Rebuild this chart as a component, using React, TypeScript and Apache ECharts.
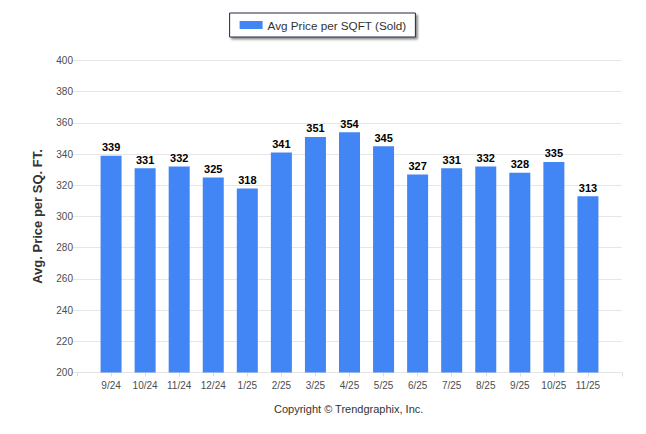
import React, { useEffect, useRef } from "react";
import * as echarts from "echarts";

const categories = ["9/24", "10/24", "11/24", "12/24", "1/25", "2/25", "3/25", "4/25", "5/25", "6/25", "7/25", "8/25", "9/25", "10/25", "11/25"];
const avgPriceSold = [339, 331, 332, 325, 318, 341, 351, 354, 345, 327, 331, 332, 328, 335, 313];
const yMin = 200;
const yMax = 400;
const yInterval = 20;

export default function App() {
  const ref = useRef<HTMLDivElement>(null);
  useEffect(() => {
    if (!ref.current) return;
    const chart = echarts.init(ref.current, undefined, { renderer: "svg" });
    const cats = ["", ...categories, ""];
    const vals: (number | null)[] = [null, ...avgPriceSold, null];
    const font = "'Liberation Sans', Arial, sans-serif";
    chart.setOption({
      animation: false,
      backgroundColor: "#ffffff",
      textStyle: { fontFamily: font },
      legend: {
        top: 13,
        left: "center",
        padding: [6, 9, 6, 10],
        itemWidth: 23,
        itemHeight: 8,
        itemGap: 10,
        backgroundColor: "#ffffff",
        borderColor: "#1f2b44",
        borderWidth: 1,
        shadowColor: "rgba(0,0,0,0.45)",
        shadowBlur: 2,
        shadowOffsetX: 2,
        shadowOffsetY: 2,
        textStyle: { fontSize: 11.7, color: "#333333", fontFamily: font },
        data: [{ name: "Avg Price per SQFT (Sold)", icon: "rect" }],
      },
      grid: { left: 77, right: 24, top: 60.5, bottom: 61.5, containLabel: false },
      xAxis: {
        type: "category",
        data: cats,
        boundaryGap: false,
        axisLine: { show: true, lineStyle: { color: "#e3e3e3", width: 1 } },
        axisTick: { show: true, length: 4, lineStyle: { color: "#dcdcdc" }, interval: 0 },
        axisLabel: { interval: 0, fontSize: 10, color: "#4d4d4d", margin: 8, fontFamily: font },
        splitLine: { show: false },
      },
      yAxis: {
        type: "value",
        min: yMin,
        max: yMax,
        interval: yInterval,
        name: "Avg. Price per SQ. FT.",
        nameLocation: "middle",
        nameGap: 33,
        nameTextStyle: { fontSize: 13, fontWeight: "bold", color: "#333333", fontFamily: font },
        axisLine: { show: false },
        axisTick: { show: true, length: 5, lineStyle: { color: "#e6e6e6" } },
        axisLabel: { fontSize: 10, color: "#4d4d4d", margin: 4, fontFamily: font },
        splitLine: { show: true, lineStyle: { color: "#e6e6e6", width: 1 } },
      },
      series: [
        {
          name: "Avg Price per SQFT (Sold)",
          type: "bar",
          data: vals,
          barWidth: 21,
          itemStyle: { color: "#4285f4" },
          label: {
            show: true,
            position: "top",
            distance: 3,
            fontSize: 11,
            fontWeight: "bold",
            color: "#000000",
            fontFamily: font,
          },
        },
      ],
      graphic: [
        {
          type: "text",
          left: 274,
          top: 403,
          style: {
            text: "Copyright \u00a9 Trendgraphix, Inc.",
            fontSize: 11,
            fill: "#333333",
            fontFamily: font,
          },
        },
      ],
    });
    return () => chart.dispose();
  }, []);
  return (
    <div
      ref={ref}
      style={{ position: "absolute", left: 0, top: 0, width: 646, height: 434 }}
    />
  );
}
